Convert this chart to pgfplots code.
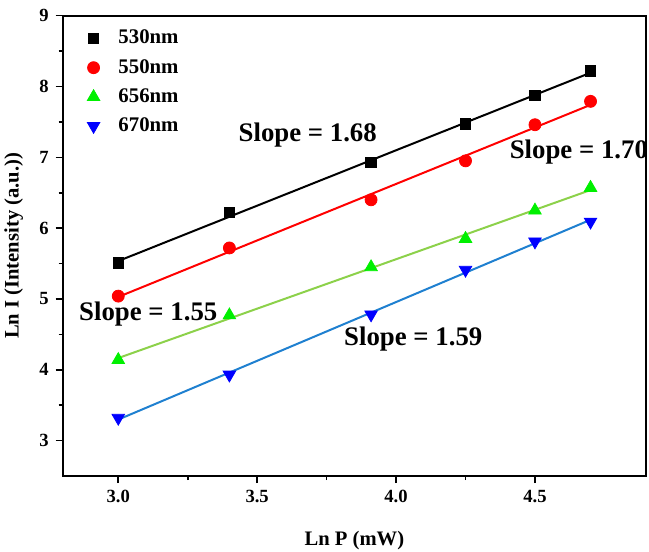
\documentclass[border=0pt]{standalone}
\usepackage{fontspec}
\setmainfont{Liberation Serif}
\usepackage{pgfplots}
\usepackage{pgfplotstable}
\pgfplotsset{compat=1.18}

\definecolor{fitgreen}{HTML}{8CD14A}
\definecolor{fitblue}{HTML}{1F80D0}
\definecolor{mkgreen}{HTML}{00F000}
\definecolor{mkblue}{HTML}{0000FF}

% Ln I versus Ln P, one table per wavelength
\pgfplotstableread{
x y
3.00 5.51
3.40 6.22
3.91 6.93
4.25 7.47
4.50 7.87
4.70 8.22
}\dataA
\pgfplotstableread{
x y
3.00 5.04
3.40 5.72
3.91 6.40
4.25 6.95
4.50 7.46
4.70 7.79
}\dataB
\pgfplotstableread{
x y
3.00 4.14
3.40 4.77
3.91 5.45
4.25 5.85
4.50 6.25
4.70 6.57
}\dataC
\pgfplotstableread{
x y
3.00 3.32
3.40 3.93
3.91 4.78
4.25 5.41
4.50 5.81
4.70 6.09
}\dataD

\begin{document}
\begin{tikzpicture}
\begin{axis}[
    scale only axis,
    width=291.7pt, height=230.2pt,
    xmin=2.8, xmax=4.9, ymin=2.5, ymax=9,
    xtick={3.0,3.5,4.0,4.5}, ytick={3,4,5,6,7,8,9},
    minor x tick num=1, minor y tick num=1,
    xtick pos=bottom, ytick pos=left,
    tick align=outside,
    major tick length=3.5pt, minor tick length=2pt,
    tick style={line width=0.8pt, black},
    axis line style={line width=1pt},
    /pgf/number format/assume math mode=true,
    x tick label style={/pgf/number format/.cd, fixed, fixed zerofill, precision=1},
    tick label style={font=\fontsize{9.3}{11}\selectfont\bfseries},
    xlabel={Ln P (mW)},
    ylabel={Ln I (Intensity (a.u.))},
    label style={font=\fontsize{10.3}{12}\selectfont\bfseries},
    xlabel style={at={(axis description cs:0.5,-0.141)}, anchor=center},
    ylabel style={at={(axis description cs:-0.084,0.5)}, anchor=center},
    legend style={draw=none, fill=none, at={(axis description cs:0.012,0.987)},
        anchor=north west, font=\fontsize{10.4}{12}\selectfont\bfseries, row sep=2.2pt},
    legend cell align=left,
    legend image code/.code={\draw[#1] plot coordinates {(0.3cm,0cm)}; \path (0cm,0cm) (0.66cm,0cm);},
    clip=false,
]
% fitted lines
\addplot[black, line width=1pt, forget plot] table[x=x, y={create col/linear regression={y=y}}] {\dataA};
\addplot[red, line width=1pt, forget plot] table[x=x, y={create col/linear regression={y=y}}] {\dataB};
\addplot[fitgreen, line width=1pt, forget plot] table[x=x, y={create col/linear regression={y=y}}] {\dataC};
\addplot[fitblue, line width=1pt, forget plot] table[x=x, y={create col/linear regression={y=y}}] {\dataD};
% measured points
\addplot[only marks, mark=square*, mark size=2.6pt, black] table[x=x, y=y] {\dataA};
\addlegendentry{530nm}
\addplot[only marks, mark=*, mark size=3pt, red] table[x=x, y=y] {\dataB};
\addlegendentry{550nm}
\addplot[only marks, mark=triangle*, mark size=3.6pt, mkgreen] table[x=x, y=y] {\dataC};
\addlegendentry{656nm}
\addplot[only marks, mark=triangle*, mark options={rotate=180}, mark size=3.6pt, mkblue] table[x=x, y=y] {\dataD};
\addlegendentry{670nm}
% slope labels
\node[font=\fontsize{13.4}{15}\selectfont\bfseries] at (axis cs:3.682,7.317) {Slope = 1.68};
\node[font=\fontsize{13.4}{15}\selectfont\bfseries] at (axis cs:4.658,7.08) {Slope = 1.70};
\node[font=\fontsize{13.4}{15}\selectfont\bfseries] at (axis cs:3.108,4.78) {Slope = 1.55};
\node[font=\fontsize{13.4}{15}\selectfont\bfseries] at (axis cs:4.062,4.43) {Slope = 1.59};
% page frame corners
\coordinate (bbA) at (rel axis cs:-0.1075,-0.163);
\coordinate (bbB) at (rel axis cs:1.005,1.034);
\end{axis}
\pgfresetboundingbox
\path (bbA) rectangle (bbB);
\end{tikzpicture}
\end{document}
